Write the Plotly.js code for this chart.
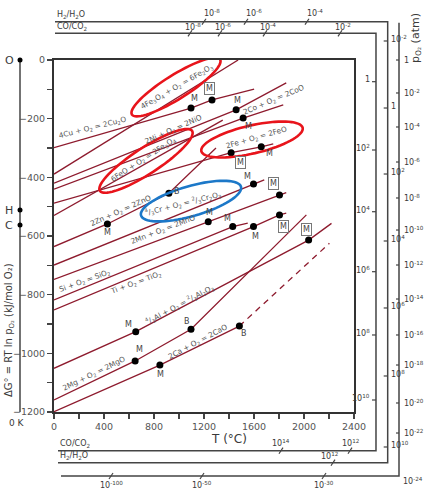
<!DOCTYPE html>
<html><head><meta charset="utf-8">
<script src="https://cdn.plot.ly/plotly-3.0.1.min.js"></script>
<style>html,body{margin:0;padding:0;background:#fff;}</style>
</head><body>
<div id="chart" style="width:425px;height:493px"></div>
<script>
// ---------- data (T in °C, ΔG° in kJ/mol O2) ----------
const cuT = [0, 1096, 1264, 1601];        const cuG = [-299, -164, -136, -99];
const fe2o3T = [0, 1473];                 const fe2o3G = [-389, 0];
const niT = [0, 1457, 1858];              const niG = [-420, -170, -78];
const coT = [0, 1513, 1834];              const coG = [-440, -198, -153];
const fe3o4T = [0, 1350];                 const fe3o4G = [-530, -205];
const feoT = [0, 1417, 1658, 1754];       const feoG = [-488, -316, -296, -286];
const znT = [0, 427, 919, 1296];          const znG = [-636, -559, -454, -300];
const crT = [0, 1596, 1682];              const crG = [-699, -423, -409];
const mnT = [0, 1234, 1804, 1858];        const mnG = [-748, -551, -460, -452];
const siT = [0, 1430, 1550];              const siG = [-818, -568, -556];
const tiT = [0, 1596, 1804, 1858];        const tiG = [-852, -568, -528, -522];
const alT = [0, 654, 2037, 2220];         const alG = [-1051, -926, -614, -557];
const mgT = [0, 649, 1096, 2019];         const mgG = [-1159, -1026, -918, -528];
const caT = [0, 847, 1483];               const caG = [-1199, -1040, -907];
const caDashT = [1483, 2203];             const caDashG = [-907, -625];

const dotT = [1096, 1264, 1457, 1513, 1417, 1658, 427, 919, 1596, 1234, 1804, 1430, 1596, 1804, 654, 2037, 649, 1096, 847, 1483];
const dotG = [-164, -136, -170, -198, -316, -296, -559, -454, -423, -551, -460, -568, -568, -528, -926, -614, -1026, -918, -1040, -907];
const dotKind = ['M','Mb','M','M','Mb','M','M','B','M','M','Mb','M','M','Mb','M','Mb','M','B','M','B'];

const reactionText = [
  '4Cu + O<sub>2</sub> = 2Cu<sub>2</sub>O',
  '4Fe<sub>3</sub>O<sub>4</sub> + O<sub>2</sub> = 6Fe<sub>2</sub>O<sub>3</sub>',
  '2Ni + O<sub>2</sub> = 2NiO',
  '6FeO + O<sub>2</sub> = 2Fe<sub>3</sub>O<sub>4</sub>',
  '2Co + O<sub>2</sub> = 2CoO',
  '2Fe + O<sub>2</sub> = 2FeO',
  '2Zn + O<sub>2</sub> = 2ZnO',
  '<sup>4</sup>/<sub>3</sub>Cr + O<sub>2</sub> = <sup>2</sup>/<sub>3</sub>Cr<sub>2</sub>O<sub>3</sub>',
  '2Mn + O<sub>2</sub> = 2MnO',
  'Si + O<sub>2</sub> = SiO<sub>2</sub>',
  'Ti + O<sub>2</sub> = TiO<sub>2</sub>',
  '<sup>4</sup>/<sub>3</sub>Al + O<sub>2</sub> = <sup>2</sup>/<sub>3</sub>Al<sub>2</sub>O<sub>3</sub>',
  '2Mg + O<sub>2</sub> = 2MgO',
  '2Ca + O<sub>2</sub> = 2CaO'
];
const reactionLabelT = [304, 984, 952, 712, 1760, 1616, 536, 1032, 872, 248, 656, 1008, 320, 1152];
const reactionLabelG = [-232, -92, -239, -342, -136, -266, -515, -488, -580, -753, -760, -835, -1070, -960];

const xTicks = [0, 400, 800, 1200, 1600, 2000, 2400];
const yTicks = [-1200, -1000, -800, -600, -400, -200, 0];

// ---------- styles / positions ----------
const lineColor = '#8e1b2e';
const labelAngle = [-14, -30, -24, -33, -23, -16, -24, -14, -21, -20, -20, -28, -26, -28];
const dotOffset = [[3,-10],[-3,-11],[1,-9],[5,8],[9,10],[8,7],[0,9],[8,-2],[-6,-8],[1,-9],[-6,-11],[-5,-8],[2,10],[4,12],[-7,-7],[-2,-11],[4,-11],[-4,-8],[1,9],[5,7]];

const X0 = 54, PW = 300, YT = 60, PH = 352;
const XS = PW/2400, YS = PH/1200;
function px(x){ return (x - X0)/PW; }
function py(y){ return (YT + PH - y)/PH; }
const FONT = 'DejaVu Sans, Verdana, sans-serif';

const series = [[cuT,cuG],[fe2o3T,fe2o3G],[niT,niG],[coT,coG],[fe3o4T,fe3o4G],[feoT,feoG],[znT,znG],[crT,crG],[mnT,mnG],[siT,siG],[tiT,tiG],[alT,alG],[mgT,mgG],[caT,caG]];
const traces = series.map(s => ({x:s[0], y:s[1], mode:'lines', type:'scatter', line:{color:lineColor, width:1.3}, hoverinfo:'skip', showlegend:false}));
traces.push({x:caDashT, y:caDashG, mode:'lines', type:'scatter', line:{color:lineColor, width:1.3, dash:'6px,5px'}, showlegend:false});
traces.push({x:dotT, y:dotG, mode:'markers', type:'scatter', marker:{color:'#000', size:7}, showlegend:false});

const annotations = [];
const tf = {family:FONT, color:'#555', size:7.4};
reactionText.forEach((t,i)=>annotations.push({x:reactionLabelT[i], y:reactionLabelG[i], xref:'x', yref:'y', text:t, showarrow:false, textangle:labelAngle[i], font:tf}));
dotKind.forEach((k,i)=>{
  const a = {x:dotT[i], y:dotG[i], xref:'x', yref:'y', text:k==='B'?'B':'M', showarrow:false,
    xshift:dotOffset[i][0], yshift:-dotOffset[i][1], font:{family:FONT, color:'#444', size:8}};
  if (k==='Mb'){ a.bordercolor='#777'; a.borderwidth=1; a.borderpad=1; a.bgcolor='#fff'; }
  annotations.push(a);
});

// ellipses (highlights) : center in data, semi-axes in px, angle deg
const ellCT = [976, 736, 1584, 1096];
const ellCG = [-92, -344, -271, -481];
const ellA = [52, 55, 52, 52], ellB = [12, 13, 14, 15], ellTh = [32, 33, 13, 16];
const ellColor = ['#e8141b','#e8141b','#e8141b','#1c78c8'];
const shapes = [];
for (let e=0;e<4;e++){
  const th = ellTh[e]*Math.PI/180; let d='';
  for (let k=0;k<=72;k++){
    const t = k/72*2*Math.PI;
    const dx = ellA[e]*Math.cos(t)*Math.cos(th) - ellB[e]*Math.sin(t)*Math.sin(th);
    const dy = ellA[e]*Math.cos(t)*Math.sin(th) + ellB[e]*Math.sin(t)*Math.cos(th);
    const X = ellCT[e] + dx/XS, Y = ellCG[e] + dy/YS;
    d += (k===0?'M':'L') + X.toFixed(2) + ',' + Y.toFixed(2);
  }
  shapes.push({type:'path', xref:'x', yref:'y', path:d+'Z', line:{color:ellColor[e], width:2.6}, layer:'above'});
}

// side scales (paper coords from pixel positions)
const sc = '#444';
function pathPx(pts){ return pts.map((p,i)=>(i?'L':'M')+px(p[0]).toFixed(4)+','+py(p[1]).toFixed(4)).join(''); }
function addPath(pts,w){ shapes.push({type:'path', xref:'paper', yref:'paper', path:pathPx(pts), line:{color:sc, width:w||1.5}}); }
addPath([[55,21.7],[387.7,21.7],[387.7,462.7],[58,462.7]]);
addPath([[55,33.3],[376,33.3],[376,450.7],[58,450.7]]);
addPath([[399,22.7],[399,476],[61,476]]);
shapes.push({type:'line', xref:'paper', yref:'paper', x0:px(20), x1:px(20), y0:py(60), y1:py(412), line:{color:sc, width:1.5}});
function tickH(x,y,l){ addPath([[x-l,y],[x,y]],1.2); }
function tickD(x,y){ addPath([[x-2,y+3],[x+2,y-3]],1.2); }
function lab(x,y,t,anchor,size,angle){ annotations.push({x:px(x), y:py(y), xref:'paper', yref:'paper', text:t, showarrow:false, xanchor:anchor||'center', yanchor:'middle', textangle:angle||0, font:{family:FONT, color:'#3a3a3a', size:size||8}}); }

// CO/CO2 vertical
const coY = [81.7,150,211.7,271.7,335,400], coL = ['1','10<sup>2</sup>','10<sup>4</sup>','10<sup>6</sup>','10<sup>8</sup>','10<sup>10</sup>'];
coY.forEach((y,i)=>{ tickH(376,y,4); lab(372,y-2,coL[i],'right'); });
// H2/H2O vertical
const hY = [41,108,174,241,308,376,447], hL = ['10<sup>-2</sup>','1','10<sup>2</sup>','10<sup>4</sup>','10<sup>6</sup>','10<sup>8</sup>','10<sup>10</sup>'];
hY.forEach((y,i)=>{ tickH(387.7,y,4); lab(389,y-2,hL[i],'left'); });
// pO2 vertical
const pY = [60,93,127,162,198,230,265,299,335,365,403,433], pL = ['1','10<sup>-2</sup>','10<sup>-4</sup>','10<sup>-6</sup>','10<sup>-8</sup>','10<sup>-10</sup>','10<sup>-12</sup>','10<sup>-14</sup>','10<sup>-16</sup>','10<sup>-18</sup>','10<sup>-20</sup>','10<sup>-22</sup>'];
pY.forEach((y,i)=>{ tickH(399,y,3); lab(402,y,pL[i],'left'); });
lab(401,481,'10<sup>-24</sup>','left');
// top scales
[[204,'10<sup>-8</sup>'],[246,'10<sup>-6</sup>'],[307,'10<sup>-4</sup>']].forEach(p=>{ tickD(p[0],21.7); lab(p[0]+8,13,p[1]); });
[[190,'10<sup>-8</sup>'],[220,'10<sup>-6</sup>'],[265,'10<sup>-4</sup>'],[340,'10<sup>-2</sup>']].forEach(p=>{ tickD(p[0],33.3); lab(p[0]+3,27,p[1]); });
lab(55,15,'H<sub>2</sub>/H<sub>2</sub>O','left');
lab(55,27,'CO/CO<sub>2</sub>','left');
// bottom scales
[[281,'10<sup>14</sup>'],[350,'10<sup>12</sup>']].forEach(p=>{ tickD(p[0],450.7); lab(p[0],443,p[1]); });
[[333,'10<sup>12</sup>']].forEach(p=>{ tickD(p[0],462.7); lab(p[0]-4,456,p[1]); });
[[111,'10<sup>-100</sup>'],[202,'10<sup>-50</sup>'],[324,'10<sup>-30</sup>']].forEach(p=>{ tickD(p[0],476); lab(p[0],485,p[1]); });
lab(58,444,'CO/CO<sub>2</sub>','left');
lab(58,456,'H<sub>2</sub>/H<sub>2</sub>O','left');
// left O H C axis
const ohcY = [60,210,225], ohcL = ['O','H','C'];
ohcY.forEach((y,i)=>{
  shapes.push({type:'circle', xref:'paper', yref:'paper', xsizemode:'pixel', ysizemode:'pixel', xanchor:px(20), yanchor:py(y), x0:-2.5, x1:2.5, y0:-2.5, y1:2.5, fillcolor:'#000', line:{color:'#000', width:0}});
  lab(9,y,ohcL[i],'center',11);
});
lab(17,423,'0 K','center',9);
// titles
lab(9,330,'ΔG° = RT ln p<sub>O₂</sub> (kJ/mol O₂)','center',10,-90);
lab(416,38,'p<sub>O₂</sub> (atm)','center',11,-90);
lab(229,439,'T (°C)','center',12);

const layout = {
  width:425, height:493, autosize:false,
  margin:{l:X0, r:425-X0-PW, t:YT, b:493-YT-PH},
  paper_bgcolor:'#fff', plot_bgcolor:'#fff', showlegend:false,
  font:{family:FONT, color:'#555'},
  xaxis:{range:[0,2400], tickmode:'array', tickvals:xTicks, ticks:'outside', ticklen:5, tickwidth:1.2, tickcolor:'#444',
    minor:{dtick:200, tick0:0, ticks:'outside', ticklen:5, tickwidth:1.2, tickcolor:'#444', showgrid:false},
    showline:true, linewidth:2, linecolor:'#333', mirror:true, showgrid:false, zeroline:false, tickfont:{size:9.5, color:'#555'}},
  yaxis:{range:[-1200,0], tickmode:'array', tickvals:yTicks, ticks:'outside', ticklen:5, tickwidth:1.2, tickcolor:'#444',
    minor:{dtick:100, tick0:0, ticks:'outside', ticklen:5, tickwidth:1.2, tickcolor:'#444', showgrid:false},
    showline:true, linewidth:2, linecolor:'#333', mirror:true, showgrid:false, zeroline:false, tickfont:{size:9.5, color:'#555'}},
  shapes:shapes, annotations:annotations
};
Plotly.newPlot('chart', traces, layout, {staticPlot:true, displayModeBar:false});
</script>
</body></html>
